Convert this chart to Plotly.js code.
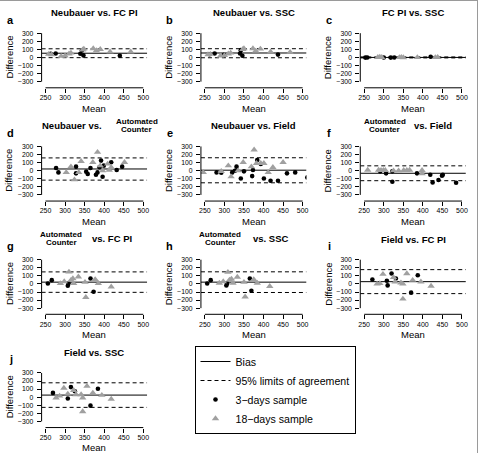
<!DOCTYPE html>
<html><head><meta charset="utf-8">
<script src="https://cdn.plot.ly/plotly-3.0.1.min.js"></script>
<style>html,body{margin:0;padding:0;background:#fff}</style>
</head><body><div id="chart" style="width:478px;height:453px"></div>
<script>
// ---------- data ----------
const meanTicks = [250, 300, 350, 400, 450, 500];
const diffTicks = [-300, -200, -100, 0, 100, 200, 300];
const meanRange = [240, 510];
const diffRange = [-376, 326];

const panelLetters = ['a','b','c','d','e','f','g','h','i','j'];
const panelTitles = ['Neubauer vs. FC PI','Neubauer vs. SSC','FC PI vs. SSC',
  'Neubauer vs. Automated Counter','Neubauer vs. Field','Automated Counter vs. Field',
  'Automated Counter vs. FC PI','Automated Counter vs. SSC','Field vs. FC PI','Field vs. SSC'];
const legendNames = ['Bias','95% limits of agreement','3\u2212days sample','18\u2212days sample'];

// [bias, upper limit, lower limit]
const aStats = [52, 107, -3];
const a3dX = [263, 276, 339, 343, 347, 440];
const a3dY = [45, 48, 45, 85, 25, 20];
const a18X = [258, 265, 290, 300, 310, 315, 345, 348, 372, 380, 390, 415, 468];
const a18Y = [40, 35, 15, 20, 45, 55, 95, 105, 110, 85, 100, 70, 70];

const bStats = [55, 108, -4];
const b3dX = [262, 275, 299, 340, 342, 346, 437];
const b3dY = [40, 48, 32, 48, 90, 20, 35];
const b18X = [258, 264, 290, 300, 310, 316, 347, 350, 373, 380, 392, 418, 468];
const b18Y = [35, 40, 20, 25, 45, 55, 100, 110, 110, 80, 105, 70, 65];

const cStats = [0, 6, -6];
const c3dX = [253, 258, 300, 318, 327, 420];
const c3dY = [-2, 0, 0, -2, 0, 8];
const c18X = [285, 290, 295, 340, 345, 350, 386, 432, 438];
const c18Y = [3, 5, 2, 0, 2, -2, 0, 0, 2];

const dStats = [21, 158, -117];
const d3dX = [277, 283, 328, 328, 354, 358, 365, 379, 383, 388, 392, 399, 396, 418, 432, 446];
const d3dY = [33, -21, 50, -33, -12, -42, 33, -50, -21, 42, 125, 62, -75, 104, 8, 50];
const d18X = [303, 315, 324, 335, 341, 371, 383, 390, 396, 409, 413, 418, 452];
const d18Y = [-21, 50, -112, -21, 116, 104, 229, 62, 0, 83, 8, 42, 104];

const eStats = [6, 160, -150];
const e3dX = [280, 292, 320, 327, 331, 342, 350, 371, 373, 384, 393, 401, 418, 437, 460, 481, 512];
const e3dY = [-21, -25, -21, 0, 50, -96, -8, -67, 8, 133, 83, -96, -125, -125, -33, -21, -83];
const e18X = [246, 292, 310, 317, 335, 348, 369, 376, 382, 393, 401, 412, 424, 450];
const e18Y = [-21, -8, 62, -75, 0, 104, 50, 258, 92, 92, 92, -21, 42, 104];

const fStats = [-32, 60, -124];
const f3dX = [291, 306, 322, 322, 385, 419, 425, 440, 449, 451, 485];
const f3dY = [-8, -33, -8, -137, -33, -50, -145, -116, -62, -50, -150];
const f18X = [259, 287, 293, 299, 304, 325, 338, 351, 359, 366, 398, 398];
const f18Y = [8, 8, 4, 4, 4, 0, 0, 4, 4, 8, 4, -35];

const gStats = [22, 149, -104];
const g3dX = [256, 266, 307, 309, 365, 373];
const g3dY = [6, 47, -22, 6, 67, -96];
const g18X = [288, 298, 310, 315, 320, 322, 334, 351, 353, 377, 385, 418];
const g18Y = [6, 30, 149, 47, 67, 6, 88, 22, -165, 55, 6, -35];

const hStats = [22, 150, -106];
const h3dX = [256, 265, 305, 307, 365, 369];
const h3dY = [6, 47, -18, 6, 67, -84];
const h18X = [287, 297, 309, 313, 318, 322, 333, 350, 353, 375, 384, 416];
const h18Y = [10, 30, 145, 50, 62, 10, 85, 22, -160, 55, 10, -30];

const iStats = [28, 177, -120];
const i3dX = [271, 308, 310, 320, 331, 370, 387];
const i3dY = [55, 39, -18, 129, 67, -108, 108];
const i18X = [283, 290, 298, 325, 329, 344, 349, 349, 359, 374, 395, 421];
const i18Y = [0, 6, 120, 80, 26, 14, 0, -186, 129, 47, 26, -26];

const jStats = [26, 178, -126];
const j3dX = [269, 307, 315, 325, 365, 384];
const j3dY = [53, -16, 125, 73, -105, 105];
const j18X = [277, 286, 297, 307, 322, 328, 341, 345, 345, 356, 371, 394, 418];
const j18Y = [-8, 16, 113, 40, 85, 32, 32, -8, -178, 138, 53, 24, -24];

// ---------- build ----------
const panels = [
  {st:aStats, x3:a3dX, y3:a3dY, x18:a18X, y18:a18Y},
  {st:bStats, x3:b3dX, y3:b3dY, x18:b18X, y18:b18Y},
  {st:cStats, x3:c3dX, y3:c3dY, x18:c18X, y18:c18Y},
  {st:dStats, x3:d3dX, y3:d3dY, x18:d18X, y18:d18Y},
  {st:eStats, x3:e3dX, y3:e3dY, x18:e18X, y18:e18Y},
  {st:fStats, x3:f3dX, y3:f3dY, x18:f18X, y18:f18Y},
  {st:gStats, x3:g3dX, y3:g3dY, x18:g18X, y18:g18Y},
  {st:hStats, x3:h3dX, y3:h3dY, x18:h18X, y18:h18Y},
  {st:iStats, x3:i3dX, y3:i3dY, x18:i18X, y18:i18Y},
  {st:jStats, x3:j3dX, y3:j3dY, x18:j18X, y18:j18Y}
];

const FONT = 'Liberation Sans, Arial, Helvetica, sans-serif';
const W = 478, H = 453, PW = W / 3, PH = H / 4;
const PX = p => p / W, PY = p => 1 - p / H;

const traces = [];
const layout = {
  width: W, height: H,
  margin: {l: 0, r: 0, t: 0, b: 0},
  paper_bgcolor: '#fff', plot_bgcolor: 'rgba(0,0,0,0)',
  font: {family: FONT, color: '#000'},
  showlegend: true,
  legend: {x: PX(194.5), y: PY(346), xanchor: 'left', yanchor: 'top',
    bgcolor: '#fff', bordercolor: '#000', borderwidth: 1,
    font: {family: FONT, size: 10.6, color: '#000'}, itemwidth: 30, traceorder: 'normal'},
  annotations: [], shapes: []
};

function ann(text, x, y, size, extra) {
  return Object.assign({text: text, x: x, y: y, xref: 'paper', yref: 'paper',
    showarrow: false, xanchor: 'center', yanchor: 'middle', borderpad: 0,
    font: {family: FONT, size: size, color: '#000'}}, extra || {});
}

panels.forEach((p, k) => {
  const r = Math.floor(k / 3), c = k % 3;
  const ox = c * PW, oy = r * PH;
  const s = k === 0 ? '' : String(k + 1);
  const xa = 'x' + s, ya = 'y' + s;
  const first = k === 0;

  traces.push({x: meanRange, y: [p.st[0], p.st[0]], xaxis: xa, yaxis: ya,
    mode: 'lines', line: {color: '#000', width: 1}, name: legendNames[0],
    showlegend: first, hoverinfo: 'skip'});
  traces.push({x: [meanRange[0], meanRange[1], null, meanRange[0], meanRange[1]],
    y: [p.st[1], p.st[1], null, p.st[2], p.st[2]], xaxis: xa, yaxis: ya,
    mode: 'lines', line: {color: '#000', width: 1, dash: '4px,3px'}, name: legendNames[1],
    showlegend: first, hoverinfo: 'skip'});
  traces.push({x: p.x3, y: p.y3, xaxis: xa, yaxis: ya, mode: 'markers',
    marker: {symbol: 'circle', size: 4.6, color: '#000'}, name: legendNames[2],
    showlegend: first});
  traces.push({x: p.x18, y: p.y18, xaxis: xa, yaxis: ya, mode: 'markers',
    marker: {symbol: 'triangle-up', size: 6.5, color: '#a0a0a0'}, name: legendNames[3],
    showlegend: first});

  layout['xaxis' + s] = {domain: [PX(ox + 41.6), PX(ox + 147.2)], range: meanRange,
    anchor: ya, tickmode: 'array', tickvals: meanTicks, ticks: 'outside', ticklen: 4,
    tickwidth: 1, tickcolor: '#000', showline: false, showgrid: false, zeroline: false,
    tickfont: {family: FONT, size: 7, color: '#000'}, ticklabelstandoff: -1, fixedrange: true};
  layout['yaxis' + s] = {domain: [PY(oy + 87.8), PY(oy + 31.1)], range: diffRange,
    anchor: xa, tickmode: 'array', tickvals: diffTicks, ticks: 'outside', ticklen: 4,
    tickwidth: 1, tickcolor: '#000', showline: false, showgrid: false, zeroline: false,
    tickfont: {family: FONT, size: 6.8, color: '#000'}, ticklabelstandoff: 2, fixedrange: true};

  // detached R-style axis lines spanning first..last tick
  layout.shapes.push({type: 'line', xref: xa, yref: ya + ' domain',
    x0: meanTicks[0], x1: meanTicks[meanTicks.length - 1], y0: 0, y1: 0,
    line: {color: '#000', width: 1}});
  layout.shapes.push({type: 'line', xref: xa + ' domain', yref: ya,
    x0: 0, x1: 0, y0: diffTicks[0], y1: diffTicks[diffTicks.length - 1],
    line: {color: '#000', width: 1}});

  // titles
  const t = panelTitles[k];
  if (t.indexOf('Automated Counter') < 0) {
    layout.annotations.push(ann('<b>' + t + '</b>', PX(ox + 94.4), PY(oy + 12.6), 9.5));
  } else if (t.indexOf('Automated Counter') > 0) {
    const pre = t.replace(' Automated Counter', '');
    layout.annotations.push(ann('<b>' + pre + '</b>', PX(ox + 71.7), PY(oy + 12.6), 9.5));
    layout.annotations.push(ann('<b>Automated</b>', PX(ox + 136.7), PY(oy + 8.6), 8));
    layout.annotations.push(ann('<b>Counter</b>', PX(ox + 136.7), PY(oy + 16.6), 8));
  } else {
    const post = t.replace('Automated Counter ', '');
    const ax = c === 2 ? 66 : 61;
    const px = c === 2 ? 114.7 : 112;
    layout.annotations.push(ann('<b>Automated</b>', PX(ox + ax), PY(oy + 8.0), 8));
    layout.annotations.push(ann('<b>Counter</b>', PX(ox + ax), PY(oy + 16.0), 8));
    layout.annotations.push(ann('<b>' + post + '</b>', PX(ox + px), PY(oy + 11.8), 9.5));
  }
  layout.annotations.push(ann('<b>' + panelLetters[k] + '</b>', PX(ox + 10.5), PY(oy + 19.5), 11));
  layout.annotations.push(ann('Mean', PX(ox + 94.4), PY(oy + 108), 9.5));
  layout.annotations.push(ann('Difference', PX(ox + 9), PY(oy + 57.5), 9.5, {textangle: -90}));
});

// figure frame (top and right edges)
layout.shapes.push({type: 'line', xref: 'paper', yref: 'paper', x0: 0, x1: 1, y0: 1, y1: 1,
  line: {color: '#9a9a9a', width: 2}});
layout.shapes.push({type: 'line', xref: 'paper', yref: 'paper', x0: 1, x1: 1, y0: 0, y1: 1,
  line: {color: '#9a9a9a', width: 2}});

Plotly.newPlot('chart', traces, layout, {staticPlot: true, displayModeBar: false});
</script>
</body></html>
